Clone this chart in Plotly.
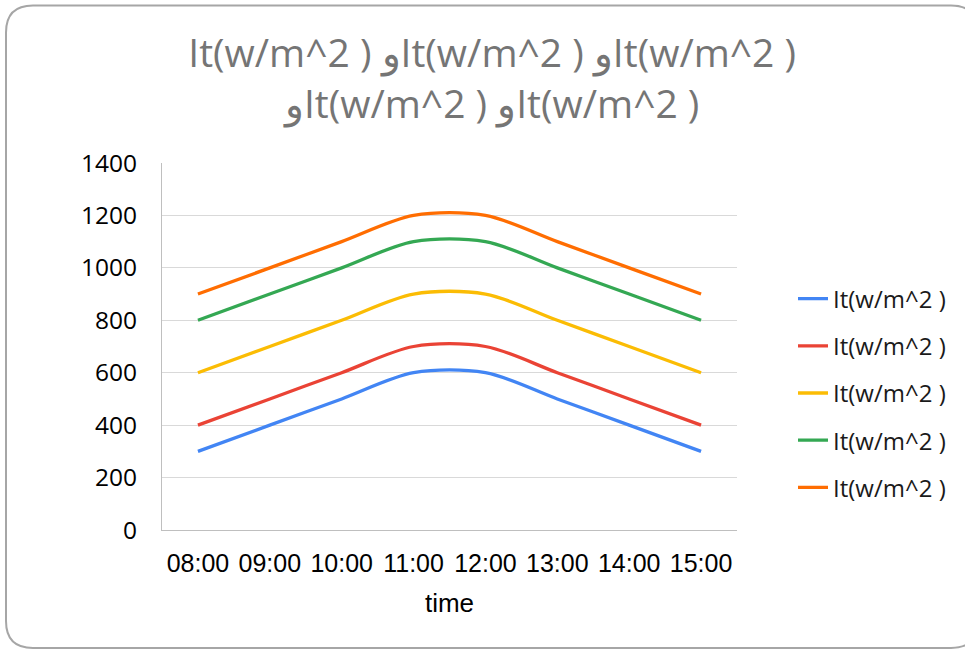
import plotly.graph_objects as go

# ---- data ----
times = ["08:00", "09:00", "10:00", "11:00", "12:00", "13:00", "14:00", "15:00"]
series_names = ["It(w/m^2 )", "It(w/m^2 )", "It(w/m^2 )", "It(w/m^2 )", "It(w/m^2 )"]
s1 = [300, 400, 500, 600, 600, 500, 400, 300]
s2 = [400, 500, 600, 700, 700, 600, 500, 400]
s3 = [600, 700, 800, 900, 900, 800, 700, 600]
s4 = [800, 900, 1000, 1100, 1100, 1000, 900, 800]
s5 = [900, 1000, 1100, 1200, 1200, 1100, 1000, 900]
y_ticks = [0, 200, 400, 600, 800, 1000, 1200, 1400]
title_text = "It(w/m^2 ) وIt(w/m^2 ) وIt(w/m^2 )<br>وIt(w/m^2 ) وIt(w/m^2 )"
x_title = "time"

colors = ["#4285F4", "#EA4335", "#FBBC04", "#34A853", "#FF6D01"]
all_series = [s1, s2, s3, s4, s5]

W, H = 965, 649
ML, MR, MT, MB = 162, 228, 163, 119
PW, PH = W - ML - MR, H - MT - MB

fig = go.Figure()
for i, (name, vals) in enumerate(zip(series_names, all_series)):
    fig.add_trace(go.Scatter(
        x=times, y=vals, name=name, mode="lines",
        line=dict(color=colors[i], width=3.3, shape="spline", smoothing=0.9),
        legendgroup=f"g{i}",
    ))


def px(xp):
    return (xp - ML) / PW


def py(yp):
    return (H - MB - yp) / PH


# rounded frame (pixel coords -> paper)
L, T, R, B, r = 6, 5.5, 978, 648, 27
path = (
    f"M {px(L)},{py(T + r)} "
    f"Q {px(L)},{py(T)} {px(L + r)},{py(T)} "
    f"L {px(R - r)},{py(T)} "
    f"Q {px(R)},{py(T)} {px(R)},{py(T + r)} "
    f"L {px(R)},{py(B - r)} "
    f"Q {px(R)},{py(B)} {px(R - r)},{py(B)} "
    f"L {px(L + r)},{py(B)} "
    f"Q {px(L)},{py(B)} {px(L)},{py(B - r)} Z"
)

fig.update_layout(
    width=W, height=H,
    margin=dict(l=ML, r=MR, t=MT, b=MB, autoexpand=False),
    paper_bgcolor="white", plot_bgcolor="white",
    title=dict(
        text=title_text, x=0.51, xanchor="center",
        y=1 - 67 / H, yanchor="top", yref="container",
        font=dict(family="Open Sans", size=39, color="#757575"),
    ),
    xaxis=dict(
        type="category", range=[-0.5, 7.5],
        showgrid=False, showline=True, linecolor="#BFBFBF", linewidth=1,
        ticks="", ticklabelstandoff=11,
        tickfont=dict(family="Liberation Sans", size=25, color="#000000"),
        title=dict(text=x_title, standoff=17,
                   font=dict(family="Liberation Sans", size=26, color="#000000")),
        fixedrange=True,
    ),
    yaxis=dict(
        range=[0, 1400], tickvals=y_ticks,
        showgrid=True, gridcolor="#D9D9D9", gridwidth=1,
        showline=True, linecolor="#BFBFBF", linewidth=1,
        zeroline=False, ticks="", ticklabelstandoff=19,
        tickfont=dict(family="Open Sans", size=24.5, color="#000000"),
        fixedrange=True,
    ),
    legend=dict(
        x=px(793), xanchor="left", y=py(393), yanchor="middle",
        font=dict(family="Open Sans", size=24, color="#1a1a1a"),
        tracegroupgap=13, bgcolor="rgba(0,0,0,0)",
    ),
    shapes=[dict(type="path", xref="paper", yref="paper", path=path,
                 line=dict(color="#A6A6A6", width=2), fillcolor="rgba(0,0,0,0)",
                 layer="below")],
    showlegend=True,
)

fig.write_html("out.html", config={"displayModeBar": False})
